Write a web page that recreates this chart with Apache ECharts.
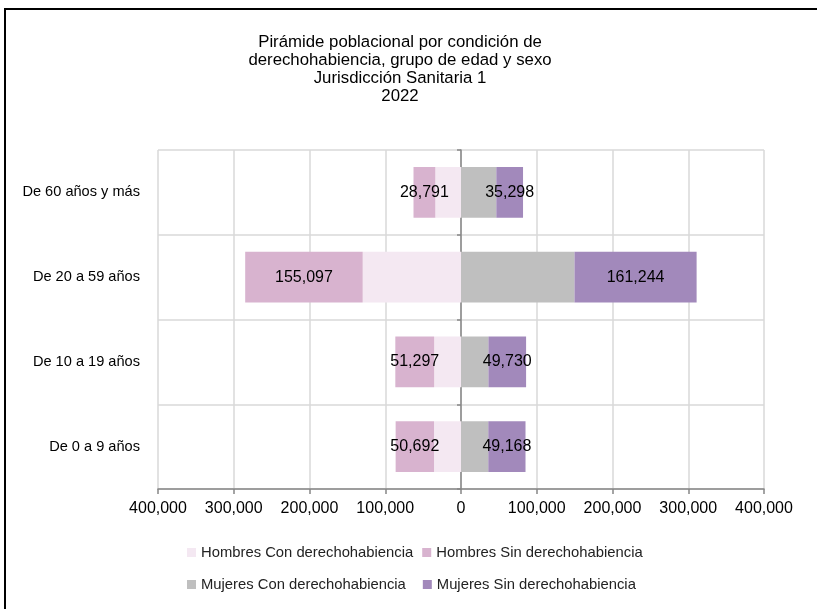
<!DOCTYPE html>
<html>
<head>
<meta charset="utf-8">
<script src="https://cdn.jsdelivr.net/npm/echarts@6/dist/echarts.min.js"></script>
<style>
  html, body { margin: 0; padding: 0; background: #fff; }
  #piramide { width: 817px; height: 609px; }
</style>
</head>
<body>
<div id="piramide"></div>
<script>
// grupos de edad (de abajo hacia arriba)
var grupos = ["De 0 a 9 años", "De 10 a 19 años", "De 20 a 59 años", "De 60 años y más"];

// hombres (se grafican a la izquierda, negativos)
var hombresCon = [35600, 35400, 129800, 33900];
var hombresSin = [50692, 51297, 155097, 28791];

// mujeres
var mujeresCon = [36000, 36200, 149800, 46600];
var mujeresSin = [49168, 49730, 161244, 35298];

var ticksX = [-400000, -300000, -200000, -100000, 0, 100000, 200000, 300000, 400000];

var fuente = "Liberation Sans";

function miles(v) {
  return Math.abs(v).toLocaleString("en-US");
}

function neg(arr) {
  return arr.map(function (v) { return -v; });
}

var chart = echarts.init(document.getElementById("piramide"));
chart.setOption({
  animation: false,
  textStyle: { fontFamily: fuente },
  title: {
    text: "Pirámide poblacional por condición de\nderechohabiencia, grupo de edad y sexo\nJurisdicción Sanitaria 1\n2022",
    left: 395,
    top: 28,
    textAlign: "center",
    textStyle: {
      fontFamily: fuente,
      fontSize: 16.8,
      fontWeight: "normal",
      lineHeight: 18,
      color: "#000"
    }
  },
  graphic: [
    {
      type: "rect",
      shape: { x: 5, y: 9, width: 900, height: 700 },
      style: { fill: "none", stroke: "#000", lineWidth: 2 },
      silent: true
    }
  ],
  legend: [
    {
      data: ["Hombres Con derechohabiencia", "Hombres Sin derechohabiencia"],
      left: 182,
      top: 540,
      itemWidth: 9,
      itemHeight: 9,
      itemGap: 9,
      icon: "rect",
      textStyle: { fontFamily: fuente, fontSize: 14.8, color: "#222" }
    },
    {
      data: ["Mujeres Con derechohabiencia", "Mujeres Sin derechohabiencia"],
      left: 182,
      top: 572,
      itemWidth: 9,
      itemHeight: 9,
      itemGap: 17,
      icon: "rect",
      textStyle: { fontFamily: fuente, fontSize: 14.8, color: "#222" }
    }
  ],
  grid: {
    left: 158,
    right: 53,
    top: 150,
    bottom: 120,
    containLabel: false
  },
  xAxis: {
    type: "value",
    min: -400000,
    max: 400000,
    interval: 100000,
    axisLine: { show: true, lineStyle: { color: "#868686", width: 1.5 } },
    axisTick: { show: true, length: 5, lineStyle: { color: "#868686", width: 1.5 } },
    splitLine: { show: true, lineStyle: { color: "#d9d9d9", width: 1.5 } },
    axisLabel: {
      color: "#000",
      fontSize: 16,
      margin: 12,
      formatter: function (v) { return ticksX.indexOf(v) >= 0 ? miles(v) : ""; }
    }
  },
  yAxis: [
    {
      type: "category",
      data: grupos,
      position: "left",
      axisLine: { show: false, onZero: false },
      axisTick: { show: false },
      splitLine: { show: true, lineStyle: { color: "#d9d9d9", width: 1.5 } },
      axisLabel: { color: "#000", fontSize: 14.6, margin: 18 }
    },
    {
      type: "category",
      data: grupos,
      position: "left",
      axisLine: { show: true, onZero: true, lineStyle: { color: "#868686", width: 1.5 } },
      axisTick: { show: true, length: 4, lineStyle: { color: "#868686", width: 1.5 } },
      splitLine: { show: false },
      axisLabel: { show: false }
    }
  ],
  series: [
    {
      name: "Hombres Con derechohabiencia",
      type: "bar",
      stack: "total",
      barCategoryGap: "40%",
      itemStyle: { color: "#f4e8f2" },
      data: neg(hombresCon)
    },
    {
      name: "Hombres Sin derechohabiencia",
      type: "bar",
      stack: "total",
      barCategoryGap: "40%",
      itemStyle: { color: "#d8b3cf" },
      label: {
        show: true,
        position: "inside",
        color: "#000",
        fontSize: 16,
        formatter: function (p) { return miles(p.value); }
      },
      data: neg(hombresSin)
    },
    {
      name: "Mujeres Con derechohabiencia",
      type: "bar",
      stack: "total",
      barCategoryGap: "40%",
      itemStyle: { color: "#bfbfbf" },
      data: mujeresCon
    },
    {
      name: "Mujeres Sin derechohabiencia",
      type: "bar",
      stack: "total",
      barCategoryGap: "40%",
      itemStyle: { color: "#a289bb" },
      label: {
        show: true,
        position: "inside",
        color: "#000",
        fontSize: 16,
        formatter: function (p) { return miles(p.value); }
      },
      data: mujeresSin
    }
  ]
});
</script>
</body>
</html>
